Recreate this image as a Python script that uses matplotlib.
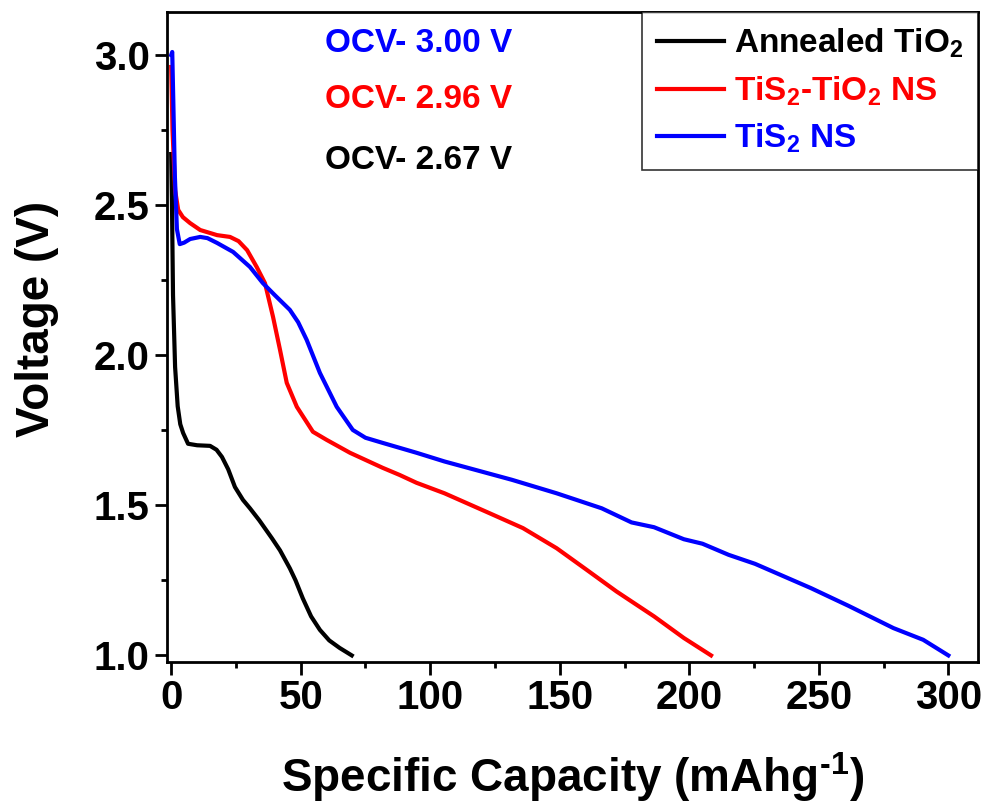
import matplotlib
matplotlib.use("Agg")
import matplotlib.pyplot as plt

plt.rcParams.update({
    "font.family": ["Liberation Sans", "DejaVu Sans"],
    "font.weight": "bold",
    "axes.labelweight": "bold",
    "mathtext.fontset": "custom",
    "mathtext.rm": "Liberation Sans:bold",
    "mathtext.it": "Liberation Sans:bold",
    "mathtext.bf": "Liberation Sans:bold",
    "mathtext.default": "rm",
})

# ---- data ----------------------------------------------------------------
tio2_cap = [0, 0.3, 0.7, 1.5, 2.5, 3.5, 4.6, 6.5, 10, 15, 17.5, 19.6, 22, 24.6,
            27.7, 30.4, 34, 38.9, 42, 45.8, 48, 50.8, 54, 57.4, 61, 65, 69.7]
tio2_v = [2.67, 2.5, 2.2, 1.961, 1.83, 1.77, 1.741, 1.705, 1.70, 1.698, 1.685,
          1.661, 1.62, 1.561, 1.518, 1.49, 1.45, 1.39, 1.35, 1.29, 1.25, 1.19,
          1.13, 1.085, 1.05, 1.025, 1.0]

hyb_cap = [0, 0.5, 1.5, 2.7, 4.5, 7.3, 11.2, 17.7, 22.7, 26, 29.3, 33, 36.2,
           39.3, 42, 44.6, 48.5, 54.7, 60, 69, 81.6, 88.2, 94.7, 105.5, 122.8,
           135.8, 148.8, 160.4, 171.9, 186.4, 197.9, 208.4]
hyb_v = [2.96, 2.75, 2.55, 2.484, 2.46, 2.44, 2.417, 2.40, 2.394, 2.38, 2.35,
         2.294, 2.24, 2.128, 2.018, 1.908, 1.828, 1.745, 1.718, 1.675, 1.625,
         1.601, 1.575, 1.540, 1.474, 1.424, 1.357, 1.285, 1.213, 1.130, 1.058,
         1.0]

tis2_cap = [0, 0.4, 0.8, 1.4, 2.2, 3.3, 5, 7.3, 11.2, 14, 17.7, 23.9, 30.4,
            35.4, 40, 45.8, 49, 52.3, 57.4, 63.9, 70.1, 75, 81.6, 94.7, 105.5,
            131.5, 148.8, 166.2, 177.7, 186.4, 197.9, 205.1, 215.2, 225.4, 247,
            261.5, 278.8, 290.3, 300]
tis2_v = [3.0, 3.01, 2.85, 2.6, 2.42, 2.37, 2.375, 2.387, 2.394, 2.39, 2.374,
          2.344, 2.294, 2.24, 2.2, 2.151, 2.11, 2.051, 1.941, 1.828, 1.751,
          1.725, 1.708, 1.675, 1.646, 1.585, 1.540, 1.490, 1.443, 1.427, 1.387,
          1.372, 1.335, 1.305, 1.224, 1.165, 1.091, 1.052, 1.0]

ocv_labels = ["OCV- 3.00 V", "OCV- 2.96 V", "OCV- 2.67 V"]
ocv_colors = ["#0000ff", "#ff0000", "#000000"]
ocv_ypos = [0.952, 0.866, 0.772]

fig = plt.figure(figsize=(9.87, 8.05), dpi=100)
ax = fig.add_axes([0.169, 0.178, 0.822, 0.807])

ax.plot(tio2_cap, tio2_v, color="black", lw=3, label="Annealed TiO$_2$")
ax.plot(hyb_cap, hyb_v, color="#ff0000", lw=3, label="TiS$_2$-TiO$_2$ NS")
ax.plot(tis2_cap, tis2_v, color="#0000ff", lw=3, label="TiS$_2$ NS")

ax.set_xlim(-1.7, 311.5)
ax.set_ylim(0.979, 3.143)
ax.set_xticks([0, 50, 100, 150, 200, 250, 300])
ax.set_xticks([25, 75, 125, 175, 225, 275], minor=True)
ax.set_yticks([1.0, 1.5, 2.0, 2.5, 3.0])
ax.set_yticks([1.25, 1.75, 2.25, 2.75], minor=True)
ax.set_yticklabels(["1.0", "1.5", "2.0", "2.5", "3.0"])

for s in ax.spines.values():
    s.set_linewidth(2)
ax.tick_params(which="major", direction="out", length=9, width=2,
               labelsize=29)
ax.tick_params(which="minor", direction="out", length=4.5, width=2)

ax.set_xlabel("Specific Capacity (mAhg$^{\u20101}$)", fontsize=33,
              labelpad=24)
ax.set_ylabel("Voltage (V)", fontsize=33)
ax.yaxis.set_label_coords(-0.133, 0.527)

for txt, c, yp in zip(ocv_labels, ocv_colors, ocv_ypos):
    ax.text(0.195, yp, txt, color=c, fontsize=24,
            transform=ax.transAxes, ha="left", va="center")

leg = ax.legend(loc="upper right", fontsize=24, labelcolor="linecolor",
                frameon=True, fancybox=False, edgecolor="black",
                borderaxespad=0.0, handlelength=2.0, handletextpad=0.3,
                labelspacing=0.42, borderpad=0.45)
leg.get_frame().set_linewidth(1.2)
for h in leg.get_lines():
    h.set_linewidth(3)

fig.savefig("out.png", dpi=100)
